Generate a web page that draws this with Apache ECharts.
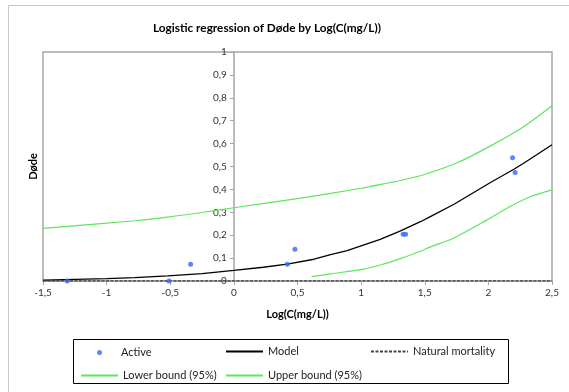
<!DOCTYPE html>
<html>
<head>
<meta charset="utf-8">
<script src="https://cdn.jsdelivr.net/npm/echarts@6/dist/echarts.min.js"></script>
<style>
html, body { margin: 0; padding: 0; background: #fff; }
#chart { width: 569px; height: 392px; }
</style>
</head>
<body>
<div id="chart"></div>
<script>
// observed points (Active)
var activeX = [-1.31, -0.51, -0.34, 0.42, 0.48, 1.33, 1.35, 2.19, 2.21];
var activeY = [0, 0, 0.073, 0.073, 0.139, 0.204, 0.204, 0.538, 0.474];

// fitted model
var modelX = [-1.5, -1.0, -0.78, -0.52, -0.25, 0, 0.23, 0.42, 0.63, 0.76, 0.89, 1.15, 1.31, 1.47, 1.54, 1.73, 2.01, 2.2, 2.28, 2.5];
var modelY = [0.004, 0.010, 0.015, 0.022, 0.032, 0.046, 0.060, 0.074, 0.095, 0.115, 0.133, 0.182, 0.219, 0.260, 0.280, 0.335, 0.428, 0.488, 0.515, 0.595];

// confidence bounds
var upperX = [-1.5, -0.78, -0.52, -0.25, 0, 0.5, 1.0, 1.23, 1.31, 1.49, 1.75, 2.01, 2.28, 2.5];
var upperY = [0.230, 0.263, 0.279, 0.299, 0.320, 0.360, 0.405, 0.430, 0.439, 0.464, 0.515, 0.588, 0.675, 0.765];
var lowerX = [0.61, 0.76, 1.02, 1.15, 1.31, 1.47, 1.54, 1.73, 1.99, 2.17, 2.33, 2.5];
var lowerY = [0.019, 0.031, 0.052, 0.070, 0.098, 0.131, 0.148, 0.188, 0.267, 0.325, 0.368, 0.398];

// natural mortality
var naturalX = [-1.5, 2.5];
var naturalY = [0, 0];

function pairs(xs, ys){
    let out = [];
    for(let i = 0, len = xs.length; i < len; i++){
        out.push([xs[i], ys[i]]);
    }
    return out;
}
function comma(v){
    return String(Math.round(v * 10) / 10).replace('.', ',');
}

var fontName = 'Lato, "Liberation Sans", sans-serif';
var green = '#5ee65e';
var legendText = { fontFamily: fontName, fontSize: 11, color: '#222' };

// grid geometry, y axis sits at x = 0
var gridLeft = 43, gridRight = 17;
var xMin = -1.5, xMax = 2.5;
var plotW = 569 - gridLeft - gridRight;
var yAxisOffset = -plotW * (0 - xMin) / (xMax - xMin);

function oneLegend(name, left, top, isLine){
    let lg = {
        data: [name],
        left: left,
        top: top,
        itemWidth: 37,
        itemHeight: 10,
        itemGap: 0,
        padding: 0,
        textStyle: legendText,
        selectedMode: false
    };
    if(isLine){
        lg.itemStyle = { opacity: 0 };
    }
    return lg;
}

var activeLegend = {
    data: [{ name: 'Active', icon: 'circle' }],
    left: 97,
    top: 347,
    itemWidth: 5,
    itemHeight: 5,
    padding: 0,
    textStyle: { fontFamily: fontName, fontSize: 11, color: '#222', padding: [0, 0, 0, 14] },
    selectedMode: false
};

var option = {
    animation: false,
    backgroundColor: '#fff',
    title: {
        text: 'Logistic regression of Døde by Log(C(mg/L))',
        left: 148,
        top: 17,
        textStyle: { fontFamily: fontName, fontSize: 11.8, fontWeight: 'bold', color: '#000' }
    },
    graphic: [
        {
            type: 'rect', shape: { x: 8.5, y: 5.5, width: 700, height: 500 },
            style: { fill: 'none', stroke: '#c8c8c8', lineWidth: 1 }, silent: true
        },
        {
            type: 'rect', shape: { x: 73.5, y: 339.5, width: 435, height: 44 },
            style: { fill: 'none', stroke: '#000', lineWidth: 1 }, silent: true
        }
    ],
    legend: [
        activeLegend,
        oneLegend('Model', 225, 346, true),
        oneLegend('Natural mortality', 370, 346, true),
        oneLegend('Lower bound (95%)', 80, 370, true),
        oneLegend('Upper bound (95%)', 225, 370, true)
    ],
    grid: {
        left: gridLeft, right: gridRight, top: 52, bottom: 111,
        show: true, borderColor: '#a6a6a6', borderWidth: 1.5
    },
    xAxis: {
        type: 'value',
        min: xMin, max: xMax, interval: 0.5,
        name: 'Log(C(mg/L))',
        nameLocation: 'middle',
        nameGap: 28,
        nameTextStyle: { fontFamily: fontName, fontSize: 11, fontWeight: 'bold', color: '#000' },
        axisLine: { lineStyle: { color: '#a6a6a6', width: 1.5 } },
        axisTick: { length: 4, lineStyle: { color: '#a6a6a6' } },
        axisLabel: { fontFamily: fontName, fontSize: 10, color: '#333', margin: 7, formatter: comma },
        splitLine: { show: false }
    },
    yAxis: [
        {
            type: 'value',
            position: 'left',
            offset: yAxisOffset,
            min: 0, max: 1, interval: 0.1,
            axisLine: { show: true, onZero: false, lineStyle: { color: '#a6a6a6', width: 1.5 } },
            axisTick: { show: true, length: 4, lineStyle: { color: '#a6a6a6' } },
            axisLabel: { fontFamily: fontName, fontSize: 10, color: '#333', margin: 7, formatter: comma },
            splitLine: { show: false }
        },
        {
            type: 'value',
            position: 'left',
            offset: 0,
            min: 0, max: 1,
            name: 'Døde',
            nameLocation: 'middle',
            nameRotate: 90,
            nameGap: 4,
            nameTextStyle: { fontFamily: fontName, fontSize: 11, fontWeight: 'bold', color: '#000' },
            axisLine: { show: false },
            axisTick: { show: false },
            axisLabel: { show: false },
            splitLine: { show: false }
        }
    ],
    series: [
        {
            name: 'Natural mortality', type: 'line', data: pairs(naturalX, naturalY),
            showSymbol: false, symbol: 'none', z: 5,
            lineStyle: { color: '#444', width: 1.5, type: [3, 1.5] },
            itemStyle: { color: '#444' }
        },
        {
            name: 'Model', type: 'line', data: pairs(modelX, modelY),
            showSymbol: false, symbol: 'none', z: 4,
            lineStyle: { color: '#000', width: 1.3 },
            itemStyle: { color: '#000' }
        },
        {
            name: 'Lower bound (95%)', type: 'line', data: pairs(lowerX, lowerY),
            showSymbol: false, symbol: 'none', smooth: 0.3,
            lineStyle: { color: green, width: 1.2 },
            itemStyle: { color: green }
        },
        {
            name: 'Upper bound (95%)', type: 'line', data: pairs(upperX, upperY),
            showSymbol: false, symbol: 'none', smooth: 0.3,
            lineStyle: { color: green, width: 1.2 },
            itemStyle: { color: green }
        },
        {
            name: 'Active', type: 'scatter', data: pairs(activeX, activeY),
            symbolSize: 5, z: 6,
            itemStyle: { color: '#3366ff' }
        }
    ]
};

var myChart = echarts.init(document.getElementById('chart'));
myChart.setOption(option);
</script>
</body>
</html>
